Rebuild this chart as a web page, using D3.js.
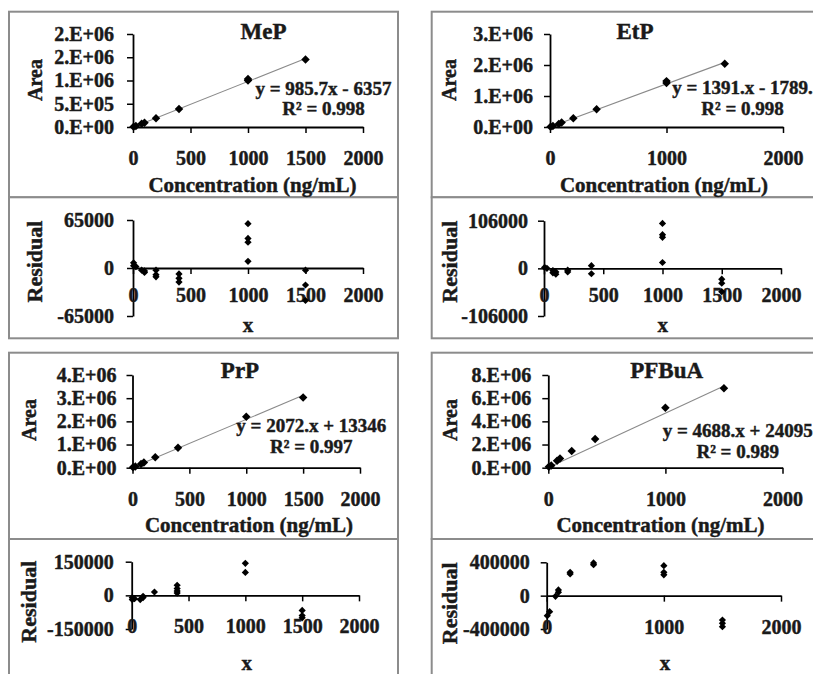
<!DOCTYPE html>
<html><head><meta charset="utf-8">
<script src="https://cdn.jsdelivr.net/npm/d3@7"></script>
<style>
body{margin:0;background:#fff}
svg{display:block}
</style>
</head><body>
<svg id="c" width="813" height="674"></svg>
<script>
// ---------------- DATA ----------------
const xTickValsFull = [0, 500, 1000, 1500, 2000];
const xTickValsWide = [0, 1000, 2000];

// MeP
const mepX = [5, 25, 75, 100, 200, 400, 1000, 1000, 1500];
const mepArea = [5000, 20000, 70000, 92000, 190000, 385000, 1000000, 1030000, 1450000];
const mepSlope = 985.7, mepIntercept = -6357;
const mepYTicks = [0, 500000, 1000000, 1500000, 2000000];
const mepYLabels = ["0.E+00", "5.E+05", "1.E+06", "2.E+06", "2.E+06"];
const mepResX = [5, 5, 25, 75, 100, 100, 200, 200, 200, 400, 400, 400, 1000, 1000, 1000, 1000, 1500, 1500, 1500];
const mepResY = [7000, 3000, 2000, -3000, -4000, -6000, -3000, -9000, -12000, -8000, -14000, -19000, 60000, 40000, 35000, 9000, -3000, -23000, -44000];
const mepResTicks = [-65000, 0, 65000];
const mepResLabels = ["-65000", "0", "65000"];

// EtP
const etpX = [5, 25, 75, 100, 200, 400, 1000, 1000, 1500];
const etpArea = [8000, 35000, 100000, 145000, 280000, 570000, 1420000, 1480000, 2040000];
const etpSlope = 1391, etpIntercept = -1789;
const etpYTicks = [0, 1000000, 2000000, 3000000];
const etpYLabels = ["0.E+00", "1.E+06", "2.E+06", "3.E+06"];
const etpResX = [5, 25, 75, 75, 100, 100, 200, 200, 400, 400, 1000, 1000, 1000, 1000, 1500, 1500, 1500];
const etpResY = [2000, 0, -5000, -10000, -8000, -13000, -4000, -8000, 6000, -12000, 100000, 75000, 69000, 13000, -24000, -33000, -52000];
const etpResTicks = [-106000, 0, 106000];
const etpResLabels = ["-106000", "0", "106000"];

// PrP
const prpX = [5, 25, 75, 100, 200, 400, 1000, 1500];
const prpArea = [15000, 50000, 160000, 225000, 450000, 860000, 2200000, 3030000];
const prpSlope = 2072, prpIntercept = 13346;
const prpYTicks = [0, 1000000, 2000000, 3000000, 4000000];
const prpYLabels = ["0.E+00", "1.E+06", "2.E+06", "3.E+06", "4.E+06"];
const prpResX = [5, 5, 25, 75, 100, 100, 200, 400, 400, 400, 400, 1000, 1000, 1500, 1500, 1500];
const prpResY = [-10000, -19000, -15000, -19000, -10000, -4000, 15000, 45000, 30000, 19000, 10000, 143000, 102000, -67000, -90000, -100000];
const prpResTicks = [-150000, 0, 150000];
const prpResLabels = ["-150000", "0", "150000"];

// PFBuA
const pfbX = [5, 25, 75, 100, 200, 400, 1000, 1500];
const pfbArea = [90000, 200000, 600000, 800000, 1440000, 2480000, 5180000, 6850000];
const pfbSlope = 4688, pfbIntercept = 24095;
const pfbYTicks = [0, 2000000, 4000000, 6000000, 8000000];
const pfbYLabels = ["0.E+00", "2.E+06", "4.E+06", "6.E+06", "8.E+06"];
const pfbResX = [5, 25, 75, 100, 100, 200, 200, 400, 400, 1000, 1000, 1000, 1500, 1500, 1500];
const pfbResY = [-240000, -192000, -8000, 40000, 68000, 260000, 280000, 392000, 372000, 360000, 280000, 250000, -292000, -332000, -372000];
const pfbResTicks = [-400000, 0, 400000];
const pfbResLabels = ["-400000", "0", "400000"];

const titles = ["MeP", "EtP", "PrP", "PFBuA"];
const eqTexts = ["y = 985.7x - 6357", "y = 1391.x - 1789.", "y = 2072.x + 13346", "y = 4688.x + 24095"];
const r2Texts = ["R² = 0.998", "R² = 0.998", "R² = 0.997", "R² = 0.989"];
const xTitle = "Concentration (ng/mL)";
const yTitle = "Area";
const resYTitle = "Residual";
const resXTitle = "x";

// ---------------- CHART ----------------
const FONT = '"Liberation Serif","Times New Roman",serif';
const INK = "#1a1a1a";
const svg = d3.select("#c");

const panels = [
  { title: titles[0], eq: eqTexts[0], r2: r2Texts[0], ax: mepX, ay: mepArea, slope: mepSlope, icpt: mepIntercept,
    yTicks: mepYTicks, yLabels: mepYLabels, xTicks: xTickValsFull, rx: mepResX, ry: mepResY, rTicks: mepResTicks, rLabels: mepResLabels, rxTicks: xTickValsFull,
    L: { bx0: 9, bx1: 398, by0: 11.7, bmid: 197.3, by2: 338.3,
         tx: [133, 363], ty: [127, 34], titleXY: [263.5, 39], eqX: 323.5, eqY: [94.5, 115],
         ylab: [41.5, 80], xlab: [252.5, 192], ypad: 13, xoff: 38,
         rxr: [133, 363], ryr: [316, 220], rypad: 13, rxoff: 34, rxlab: [248, 331.7], rylab: [41.5, 261.5] } },
  { title: titles[1], eq: eqTexts[1], r2: r2Texts[1], ax: etpX, ay: etpArea, slope: etpSlope, icpt: etpIntercept,
    yTicks: etpYTicks, yLabels: etpYLabels, xTicks: xTickValsWide, rx: etpResX, ry: etpResY, rTicks: etpResTicks, rLabels: etpResLabels, rxTicks: xTickValsFull,
    L: { bx0: 431.7, bx1: 840, by0: 11.7, bmid: 197.3, by2: 338.3,
         tx: [550, 783], ty: [127, 34], titleXY: [635, 39], eqX: 742.5, eqY: [94.3, 115],
         ylab: [456, 80], xlab: [664, 192], ypad: 11, xoff: 38,
         rxr: [544, 781], ryr: [316, 220.7], rypad: 10, rxoff: 34, rxlab: [662.7, 331.7], rylab: [456.5, 261.7] } },
  { title: titles[2], eq: eqTexts[2], r2: r2Texts[2], ax: prpX, ay: prpArea, slope: prpSlope, icpt: prpIntercept,
    yTicks: prpYTicks, yLabels: prpYLabels, xTicks: xTickValsFull, rx: prpResX, ry: prpResY, rTicks: prpResTicks, rLabels: prpResLabels, rxTicks: xTickValsFull,
    L: { bx0: 9, bx1: 398, by0: 352.7, bmid: 539, by2: 700,
         tx: [132.5, 360], ty: [467.7, 375], titleXY: [240, 378], eqX: 311.3, eqY: [431.7, 453.3],
         ylab: [36, 420], xlab: [249, 532], ypad: 10, xoff: 38,
         rxr: [131.7, 359], ryr: [629, 561.7], rypad: 12, rxoff: 38, rxlab: [246.7, 670], rylab: [36, 601.7] } },
  { title: titles[3], eq: eqTexts[3], r2: r2Texts[3], ax: pfbX, ay: pfbArea, slope: pfbSlope, icpt: pfbIntercept,
    yTicks: pfbYTicks, yLabels: pfbYLabels, xTicks: xTickValsWide, rx: pfbResX, ry: pfbResY, rTicks: pfbResTicks, rLabels: pfbResLabels, rxTicks: xTickValsWide,
    L: { bx0: 431.7, bx1: 840, by0: 352.7, bmid: 539, by2: 700,
         tx: [548.3, 782.5], ty: [467.7, 375], titleXY: [666.7, 378], eqX: 737.7, eqY: [436.7, 458.3],
         ylab: [456.5, 420], xlab: [660.5, 532], ypad: 11, xoff: 38,
         rxr: [546.7, 781], ryr: [629, 562.3], rypad: 11, rxoff: 38, rxlab: [665, 670], rylab: [456.7, 603.3] } }
];

function label(x, y, s, size, anchor, rot) {
  const t = svg.append("text")
    .attr("font-family", FONT).attr("font-weight", "bold").attr("font-size", size)
    .attr("fill", INK).attr("stroke", INK).attr("stroke-width", 0.45)
    .attr("text-anchor", anchor || "middle").text(s);
  if (rot) t.attr("transform", `translate(${x},${y}) rotate(${rot})`);
  else t.attr("x", x).attr("y", y);
  return t;
}

function styleAxis(g, isX, off) {
  g.attr("font-family", FONT).attr("font-weight", "bold").attr("font-size", 20).style("color", "#000");
  g.selectAll("path.domain").attr("stroke-width", 1.8);
  g.selectAll(".tick line").attr("stroke-width", 1.5);
  g.selectAll(".tick text").attr("fill", INK).attr("stroke", INK).attr("stroke-width", 0.45);
  if (isX) g.selectAll(".tick text").attr("y", off).attr("dy", 0);
}

const diamond = (s) => d3.symbol(d3.symbolSquare, s);

panels.forEach(p => {
  const L = p.L;
  // frames
  svg.append("rect").attr("x", L.bx0).attr("y", L.by0).attr("width", L.bx1 - L.bx0).attr("height", L.bmid - L.by0)
    .attr("fill", "#fff").attr("stroke", "#8c8c8c").attr("stroke-width", 2);
  svg.append("rect").attr("x", L.bx0).attr("y", L.bmid).attr("width", L.bx1 - L.bx0).attr("height", L.by2 - L.bmid)
    .attr("fill", "#fff").attr("stroke", "#8c8c8c").attr("stroke-width", 2);

  // ---- calibration plot ----
  const x = d3.scaleLinear().domain([0, 2000]).range(L.tx);
  const y = d3.scaleLinear().domain([0, d3.max(p.yTicks)]).range(L.ty);

  const gy = svg.append("g").attr("transform", `translate(${x(0)},0)`)
    .call(d3.axisLeft(y).tickValues(p.yTicks).tickFormat((d, i) => p.yLabels[i]).tickSize(6).tickSizeOuter(0).tickPadding(L.ypad));
  styleAxis(gy, false);
  const gx = svg.append("g").attr("transform", `translate(0,${y(0)})`)
    .call(d3.axisBottom(x).tickValues(p.xTicks).tickFormat(d3.format("d")).tickSize(6).tickSizeOuter(0));
  styleAxis(gx, true, L.xoff);

  // trendline
  const x0 = d3.min(p.ax), x1 = d3.max(p.ax);
  svg.append("line")
    .attr("x1", x(x0)).attr("y1", y(p.slope * x0 + p.icpt))
    .attr("x2", x(x1)).attr("y2", y(p.slope * x1 + p.icpt))
    .attr("stroke", "#8a8a8a").attr("stroke-width", 1.1);

  svg.append("g").selectAll("path").data(p.ax.map((v, i) => [v, p.ay[i]])).join("path")
    .attr("d", diamond(36)())
    .attr("transform", d => `translate(${x(d[0])},${y(d[1])}) rotate(45)`)
    .attr("fill", "#000");

  label(L.titleXY[0], L.titleXY[1], p.title, 23, "middle");
  label(L.eqX, L.eqY[0], p.eq, 19, "middle");
  label(L.eqX, L.eqY[1], p.r2, 19, "middle");
  label(L.xlab[0], L.xlab[1], xTitle, 21, "middle");
  label(L.ylab[0], L.ylab[1], yTitle, 20, "middle", -90);

  // ---- residual plot ----
  const rx = d3.scaleLinear().domain([0, 2000]).range(L.rxr);
  const ry = d3.scaleLinear().domain([p.rTicks[0], p.rTicks[2]]).range(L.ryr);

  const gry = svg.append("g").attr("transform", `translate(${rx(0)},0)`)
    .call(d3.axisLeft(ry).tickValues(p.rTicks).tickFormat((d, i) => p.rLabels[i]).tickSize(6).tickSizeOuter(0).tickPadding(L.rypad));
  styleAxis(gry, false);
  const grx = svg.append("g").attr("transform", `translate(0,${ry(0)})`)
    .call(d3.axisBottom(rx).tickValues(p.rxTicks).tickFormat(d3.format("d")).tickSize(6).tickSizeOuter(0));
  styleAxis(grx, true, L.rxoff);

  svg.append("g").selectAll("path").data(p.rx.map((v, i) => [v, p.ry[i]])).join("path")
    .attr("d", diamond(26)())
    .attr("transform", d => `translate(${rx(d[0])},${ry(d[1])}) rotate(45)`)
    .attr("fill", "#000");

  label(L.rxlab[0], L.rxlab[1], resXTitle, 21, "middle");
  label(L.rylab[0], L.rylab[1], resYTitle, 22, "middle", -90);
});
</script>
</body></html>
